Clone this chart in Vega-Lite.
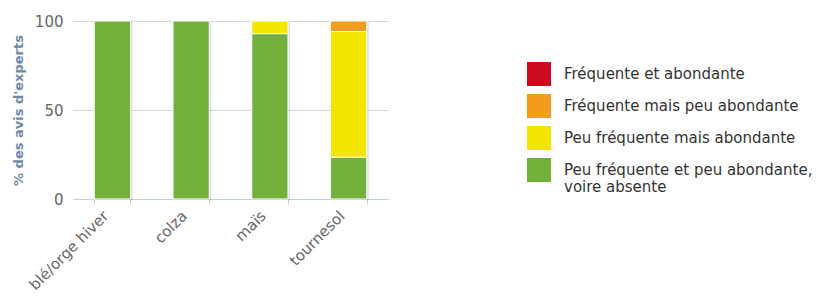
{
  "$schema": "https://vega.github.io/schema/vega-lite/v6.json",
  "autosize": {"type": "none"},
  "padding": {"left": 73, "top": 21, "right": 428, "bottom": 97},
  "width": 315,
  "height": 178,
  "background": "white",
  "config": {"view": {"stroke": null}},
  "data": {"values": [
    {"culture": "blé/orge hiver", "categorie": "Peu fréquente et peu abondante, voire absente", "niveau": 1, "pct": 100},
    {"culture": "colza", "categorie": "Peu fréquente et peu abondante, voire absente", "niveau": 1, "pct": 100},
    {"culture": "maïs", "categorie": "Peu fréquente et peu abondante, voire absente", "niveau": 1, "pct": 92.9},
    {"culture": "maïs", "categorie": "Peu fréquente mais abondante", "niveau": 2, "pct": 7.1},
    {"culture": "tournesol", "categorie": "Peu fréquente et peu abondante, voire absente", "niveau": 1, "pct": 23.5},
    {"culture": "tournesol", "categorie": "Peu fréquente mais abondante", "niveau": 2, "pct": 70.6},
    {"culture": "tournesol", "categorie": "Fréquente mais peu abondante", "niveau": 3, "pct": 5.9}
  ]},
  "encoding": {
    "x": {"field": "culture", "type": "nominal", "sort": null,
      "scale": {"paddingInner": 0.54, "paddingOuter": 0.27},
      "axis": {"title": null, "labelAngle": -45, "labelAlign": "right", "labelBaseline": "top",
        "labelFont": "DejaVu Sans", "labelFontSize": 15, "labelColor": "#666666", "labelPadding": 4, "labelOffset": -12,
        "domainColor": "#c0d0e0", "tickColor": "#c0d0e0", "tickSize": 5, "tickBand": "extent", "grid": false}},
    "y": {"field": "pct", "type": "quantitative", "stack": "zero",
      "scale": {"domain": [0, 100]},
      "axis": {"title": "% des avis d'experts", "values": [0, 50, 100], "titleFont": "DejaVu Sans", "titleFontSize": 13,
        "titleFontWeight": "bold", "titleColor": "#6e8aaa", "titlePadding": 9,
        "labelFont": "DejaVu Sans", "labelFontSize": 15, "labelColor": "#666666", "labelPadding": 10,
        "ticks": false, "domain": false, "gridColor": "#d8d8d8"}},
    "order": {"field": "niveau", "type": "quantitative", "sort": "ascending"}
  },
  "layer": [
    {
      "mark": {"type": "bar", "color": "#000000", "opacity": 0.12, "xOffset": 2, "yOffset": 1},
      "encoding": {}
    },
    {
      "mark": {"type": "bar", "stroke": "white", "strokeWidth": 1},
      "encoding": {
        "color": {"field": "categorie", "type": "nominal",
          "scale": {"domain": ["Fréquente et abondante", "Fréquente mais peu abondante", "Peu fréquente mais abondante", "Peu fréquente et peu abondante, voire absente"],
            "range": ["#cc0a1e", "#f39b1d", "#f2e600", "#72b23b"]},
          "legend": {"title": null, "orient": "none", "legendX": 454, "legendY": 41,
            "symbolType": "square", "symbolSize": 576, "symbolStrokeWidth": 0, "symbolOpacity": 1,
            "rowPadding": 8, "labelOffset": 13, "labelFont": "DejaVu Sans", "labelFontSize": 15, "labelColor": "#333333",
            "labelLimit": 400,
            "labelExpr": "datum.label == 'Peu fréquente et peu abondante, voire absente' ? ['Peu fréquente et peu abondante,', 'voire absente'] : datum.label"}}
      }
    }
  ]
}
